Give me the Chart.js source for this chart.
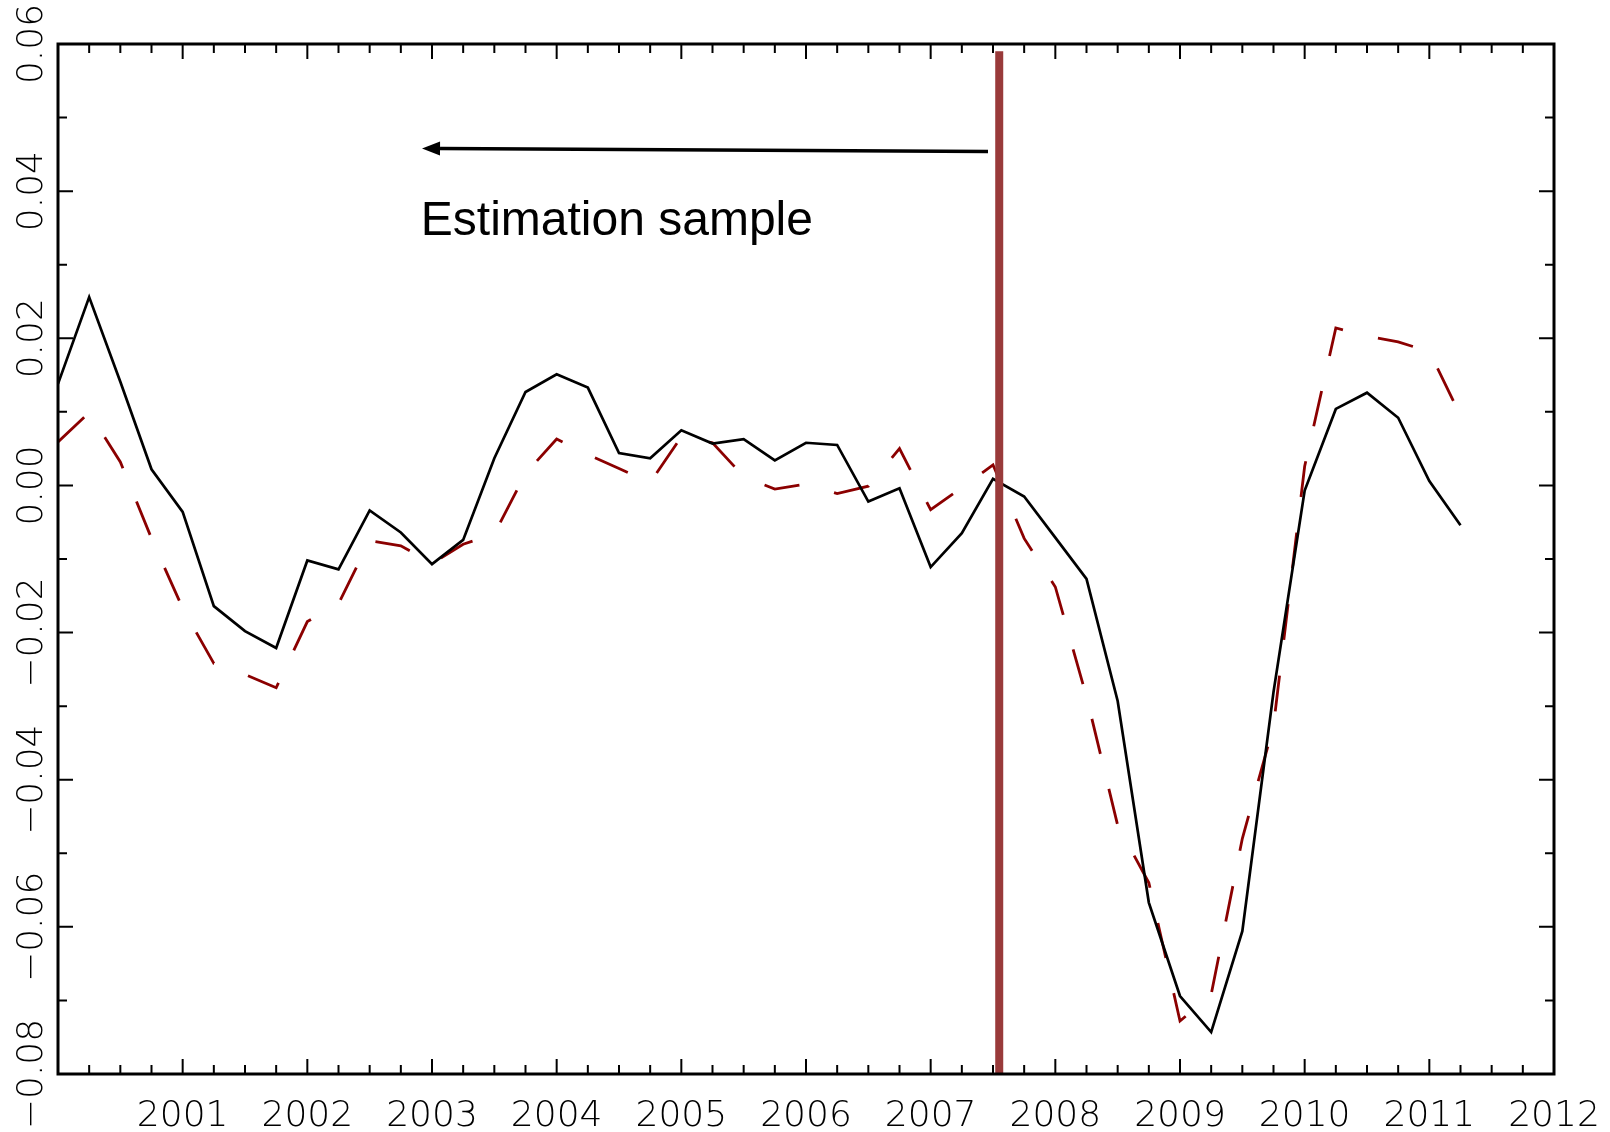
<!DOCTYPE html>
<html>
<head>
<meta charset="utf-8">
<script src="https://cdn.jsdelivr.net/npm/chart.js@4.4.1/dist/chart.umd.min.js"></script>
<style>
  html, body { margin: 0; padding: 0; background: #fff; }
  #wrap { width: 1610px; height: 1132px; }
</style>
</head>
<body>
<div id="wrap"><canvas id="chart1" width="1610" height="1132"></canvas></div>
<script>
// quarterly dates, 2000Q1 .. 2011Q2
const quarters = [
  2000.00, 2000.25, 2000.50, 2000.75, 2001.00, 2001.25, 2001.50, 2001.75,
  2002.00, 2002.25, 2002.50, 2002.75, 2003.00, 2003.25, 2003.50, 2003.75,
  2004.00, 2004.25, 2004.50, 2004.75, 2005.00, 2005.25, 2005.50, 2005.75,
  2006.00, 2006.25, 2006.50, 2006.75, 2007.00, 2007.25, 2007.50, 2007.75,
  2008.00, 2008.25, 2008.50, 2008.75, 2009.00, 2009.25, 2009.50, 2009.75,
  2010.00, 2010.25, 2010.50, 2010.75, 2011.00, 2011.25
];

// solid black series
const actual = [
  0.0138, 0.0256, 0.0141, 0.0022, -0.0036, -0.0164, -0.0198, -0.0221,
  -0.0102, -0.0114, -0.0034, -0.0064, -0.0107, -0.0074, 0.0037, 0.0127,
  0.0151, 0.0133, 0.0044, 0.0037, 0.0075, 0.0057, 0.0063, 0.0034,
  0.0058, 0.0055, -0.0022, -0.0004, -0.0111, -0.0065, 0.0009, -0.0015,
  -0.0071, -0.0127, -0.0293, -0.0567, -0.0694, -0.0743, -0.0606, -0.0281,
  -0.0007, 0.0104, 0.0126, 0.0092, 0.0006, -0.0054
];

// dashed dark red series
const fitted = [
  0.0059, 0.0099, 0.0032, -0.0072, -0.0167, -0.0242, -0.0257, -0.0275,
  -0.0185, -0.0161, -0.0075, -0.0082, -0.0106, -0.0080, -0.0066, 0.0016,
  0.0063, 0.0042, 0.0023, 0.0004, 0.0066, 0.0058, 0.0012, -0.0005,
  0.0002, -0.0011, -0.0001, 0.0050, -0.0033, -0.0003, 0.0028, -0.0072,
  -0.0138, -0.0287, -0.0462, -0.0540, -0.0728, -0.0692, -0.0480, -0.0327,
  0.0026, 0.0214, 0.0203, 0.0195, 0.0182, 0.0095
];

const xYears = [2000, 2001, 2002, 2003, 2004, 2005, 2006, 2007, 2008, 2009, 2010, 2011, 2012];
const xLabels = ['', '2001', '2002', '2003', '2004', '2005', '2006', '2007', '2008', '2009', '2010', '2011', '2012'];
const yTicks = [-0.08, -0.06, -0.04, -0.02, 0.00, 0.02, 0.04, 0.06];
const yLabels = ['\u22120.08', '\u22120.06', '\u22120.04', '\u22120.02', '0.00', '0.02', '0.04', '0.06'];

// end of the estimation sample, and the annotation
const sampleEnd = 2007.55;
const sampleLine = [0.059, -0.08];
const arrowFrom = [2007.46, 0.0454];
const arrowTo = [2002.92, 0.0458];
const noteText = 'Estimation sample';
const noteAt = [2002.91, 0.0341];

const tickFont = '200 36px "DejaVu Sans"';

const frame = {
  id: 'frame',
  afterDraw(chart) {
    const { ctx, chartArea: a, scales: { x, y } } = chart;
    ctx.save();

    // inward ticks on all four sides
    ctx.strokeStyle = '#000';
    ctx.lineWidth = 2;
    ctx.beginPath();
    for (let i = 0; i <= 48; i++) {
      const px = x.getPixelForValue(2000 + i / 4);
      const len = i % 4 === 0 ? 15 : 9;
      ctx.moveTo(px, a.bottom); ctx.lineTo(px, a.bottom - len);
      ctx.moveTo(px, a.top); ctx.lineTo(px, a.top + len);
    }
    for (let i = 0; i <= 14; i++) {
      const py = y.getPixelForValue(-0.08 + i * 0.01);
      const len = i % 2 === 0 ? 15 : 9;
      ctx.moveTo(a.left, py); ctx.lineTo(a.left + len, py);
      ctx.moveTo(a.right, py); ctx.lineTo(a.right - len, py);
    }
    ctx.stroke();

    // frame
    ctx.lineWidth = 3;
    ctx.strokeRect(a.left, a.top, a.right - a.left, a.bottom - a.top);

    // tick labels
    ctx.fillStyle = '#000';
    ctx.font = tickFont;
    ctx.textAlign = 'center';
    ctx.textBaseline = 'alphabetic';
    xYears.forEach((yr, i) => {
      ctx.fillText(xLabels[i], x.getPixelForValue(yr), 1126);
    });
    yTicks.forEach((v, i) => {
      ctx.save();
      ctx.translate(42, y.getPixelForValue(v));
      ctx.rotate(-Math.PI / 2);
      ctx.fillText(yLabels[i], 0, 0);
      ctx.restore();
    });

    // arrow
    const x1 = x.getPixelForValue(arrowFrom[0]), y1 = y.getPixelForValue(arrowFrom[1]);
    const x2 = x.getPixelForValue(arrowTo[0]), y2 = y.getPixelForValue(arrowTo[1]);
    const ang = Math.atan2(y2 - y1, x2 - x1);
    const head = 18, half = 7;
    ctx.lineWidth = 3.5;
    ctx.beginPath();
    ctx.moveTo(x1, y1);
    ctx.lineTo(x2 - Math.cos(ang) * head, y2 - Math.sin(ang) * head);
    ctx.stroke();
    ctx.beginPath();
    ctx.moveTo(x2, y2);
    ctx.lineTo(x2 - Math.cos(ang) * head - Math.sin(ang) * half, y2 - Math.sin(ang) * head + Math.cos(ang) * half);
    ctx.lineTo(x2 - Math.cos(ang) * head + Math.sin(ang) * half, y2 - Math.sin(ang) * head - Math.cos(ang) * half);
    ctx.closePath();
    ctx.fill();

    // note
    ctx.font = '48px "Liberation Sans", Arial, sans-serif';
    ctx.textAlign = 'left';
    ctx.fillText(noteText, x.getPixelForValue(noteAt[0]), y.getPixelForValue(noteAt[1]));

    ctx.restore();
  }
};

new Chart(document.getElementById('chart1'), {
  type: 'line',
  data: {
    datasets: [
      {
        label: 'sample end',
        data: sampleLine.map((v) => ({ x: sampleEnd, y: v })),
        borderColor: '#993a3a',
        borderWidth: 8,
        borderCapStyle: 'butt',
        pointRadius: 0
      },
      {
        label: 'actual',
        data: quarters.map((q, i) => ({ x: q, y: actual[i] })),
        borderColor: '#000',
        borderWidth: 2.7,
        pointRadius: 0,
        tension: 0
      },
      {
        label: 'fitted',
        data: quarters.map((q, i) => ({ x: q, y: fitted[i] })),
        borderColor: '#8b0000',
        borderWidth: 2.8,
        borderDash: [36, 36],
        borderCapStyle: 'butt',
        pointRadius: 0,
        tension: 0
      }
    ]
  },
  options: {
    responsive: false,
    devicePixelRatio: 1,
    animation: false,
    layout: { padding: { left: 58, right: 56, top: 44, bottom: 58 } },
    plugins: { legend: { display: false }, tooltip: { enabled: false } },
    scales: {
      x: { type: 'linear', min: 2000, max: 2012, display: false },
      y: { type: 'linear', min: -0.08, max: 0.06, display: false }
    }
  },
  plugins: [frame]
});
</script>
</body>
</html>
